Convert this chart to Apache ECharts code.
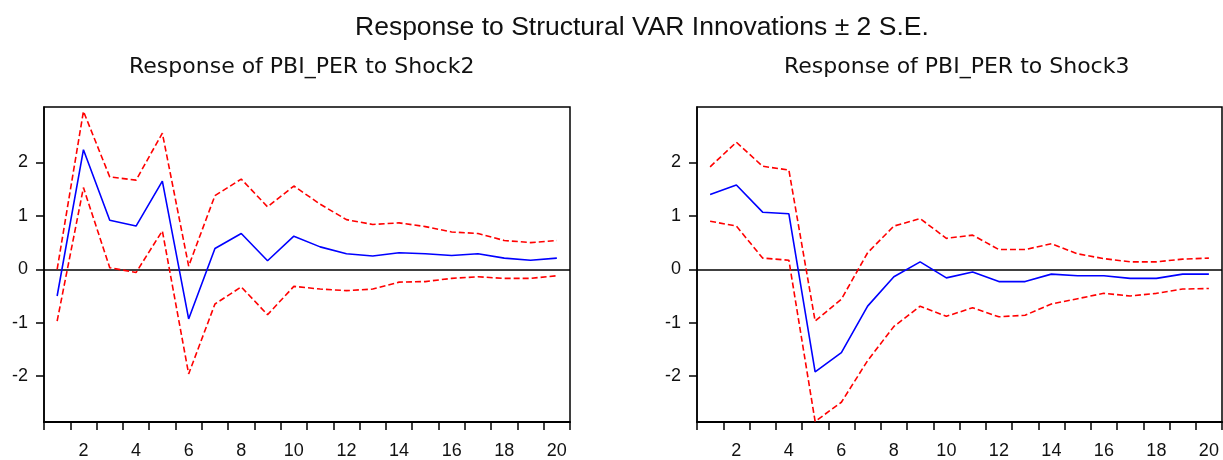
<!DOCTYPE html>
<html>
<head>
<meta charset="utf-8">
<title>Response to Structural VAR Innovations ± 2 S.E.</title>
<script src="https://cdn.jsdelivr.net/npm/echarts@6/dist/echarts.min.js"></script>
<style>
  html, body { margin: 0; padding: 0; background: #fff; }
  #chart { width: 1223px; height: 460px; }
</style>
</head>
<body>
<div id="chart"></div>
<script>
// Forecast horizon (periods after the shock)
const periods = ['1','2','3','4','5','6','7','8','9','10','11','12','13','14','15','16','17','18','19','20'];

// Response of PBI_PER to Shock2: point estimate and ±2 S.E. band
const irfShock2   = [-0.50, 2.24, 0.92, 0.81, 1.65, -0.93, 0.39, 0.67, 0.16, 0.62, 0.42, 0.29, 0.25, 0.31, 0.29, 0.26, 0.29, 0.21, 0.17, 0.21];
const upperShock2 = [0.00, 2.96, 1.73, 1.67, 2.55, 0.06, 1.38, 1.69, 1.17, 1.56, 1.22, 0.93, 0.84, 0.87, 0.80, 0.70, 0.67, 0.54, 0.50, 0.54];
const lowerShock2 = [-0.97, 1.53, 0.03, -0.06, 0.72, -1.96, -0.65, -0.33, -0.85, -0.32, -0.37, -0.40, -0.37, -0.24, -0.23, -0.17, -0.14, -0.17, -0.17, -0.12];

// Response of PBI_PER to Shock3: point estimate and ±2 S.E. band
const irfShock3   = [1.40, 1.58, 1.07, 1.04, -1.92, -1.56, -0.69, -0.14, 0.14, -0.16, -0.05, -0.23, -0.23, -0.09, -0.12, -0.12, -0.17, -0.17, -0.09, -0.09];
const upperShock3 = [1.92, 2.38, 1.93, 1.86, -0.97, -0.56, 0.31, 0.81, 0.95, 0.58, 0.64, 0.37, 0.37, 0.48, 0.29, 0.20, 0.14, 0.14, 0.19, 0.21];
const lowerShock3 = [0.90, 0.81, 0.21, 0.17, -2.85, -2.49, -1.71, -1.07, -0.69, -0.88, -0.72, -0.89, -0.86, -0.65, -0.55, -0.45, -0.50, -0.45, -0.37, -0.36];

// Value axis tick labels and range
const yTickValues = [-2, -1, 0, 1, 2];
const yMin = -2.86;
const yMax = 3.04;

const labelFont = { fontFamily: 'Liberation Sans, Arial, sans-serif', fontSize: 18, color: '#111' };

function xAxisFor(gridIndex) {
  return {
    type: 'category',
    gridIndex: gridIndex,
    data: periods,
    boundaryGap: true,
    axisLine: { show: true, onZero: false, lineStyle: { color: '#000', width: 2 } },
    axisTick: { show: true, interval: 0, length: 8, lineStyle: { color: '#000', width: 1.5 } },
    axisLabel: Object.assign({ interval: (i) => i % 2 === 1, margin: 20 }, labelFont),
    splitLine: { show: false }
  };
}

function yAxisFor(gridIndex) {
  return {
    type: 'value',
    gridIndex: gridIndex,
    min: yMin,
    max: yMax,
    axisLine: { show: true, onZero: false, lineStyle: { color: '#000', width: 1.5 } },
    axisTick: { show: true, customValues: yTickValues, length: 8, lineStyle: { color: '#000', width: 1.5 } },
    axisLabel: Object.assign({ customValues: yTickValues, margin: 16 }, labelFont),
    splitLine: { show: false }
  };
}

function irfSeries(gridIndex, mid, upper, lower) {
  const idx = gridIndex;
  const band = (data) => ({
    type: 'line', xAxisIndex: idx, yAxisIndex: idx, data: data,
    symbol: 'none', silent: true,
    lineStyle: { color: '#ff0000', width: 1.6, type: [6, 3] },
    z: 3
  });
  return [
    {
      type: 'line', xAxisIndex: idx, yAxisIndex: idx, data: mid,
      symbol: 'none', silent: true,
      lineStyle: { color: '#0000ff', width: 1.6 },
      z: 4,
      markLine: {
        silent: true, symbol: 'none', label: { show: false },
        lineStyle: { color: '#000', width: 1.5, type: 'solid' },
        data: [{ yAxis: 0 }],
        z: 2
      }
    },
    band(upper),
    band(lower)
  ];
}

const chart = echarts.init(document.getElementById('chart'), null, { renderer: 'canvas' });

chart.setOption({
  backgroundColor: '#fff',
  animation: false,
  title: [
    {
      text: 'Response to Structural VAR Innovations ± 2 S.E.',
      left: 350, top: 9,
      textStyle: { fontFamily: 'Liberation Sans, Arial, sans-serif', fontSize: 26.5, fontWeight: 'normal', color: '#111' }
    },
    {
      text: 'Response of PBI_PER to Shock2',
      left: 124, top: 51,
      textStyle: { fontFamily: 'DejaVu Sans, sans-serif', fontSize: 22, fontWeight: 'normal', color: '#111' }
    },
    {
      text: 'Response of PBI_PER to Shock3',
      left: 779, top: 51,
      textStyle: { fontFamily: 'DejaVu Sans, sans-serif', fontSize: 22, fontWeight: 'normal', color: '#111' }
    }
  ],
  grid: [
    { left: 44, right: 653, top: 107, bottom: 37, show: true, borderColor: '#000', borderWidth: 1.5, containLabel: false },
    { left: 697, right: 1, top: 107, bottom: 37, show: true, borderColor: '#000', borderWidth: 1.5, containLabel: false }
  ],
  xAxis: [xAxisFor(0), xAxisFor(1)],
  yAxis: [yAxisFor(0), yAxisFor(1)],
  series: [].concat(
    irfSeries(0, irfShock2, upperShock2, lowerShock2),
    irfSeries(1, irfShock3, upperShock3, lowerShock3)
  )
});
</script>
</body>
</html>
